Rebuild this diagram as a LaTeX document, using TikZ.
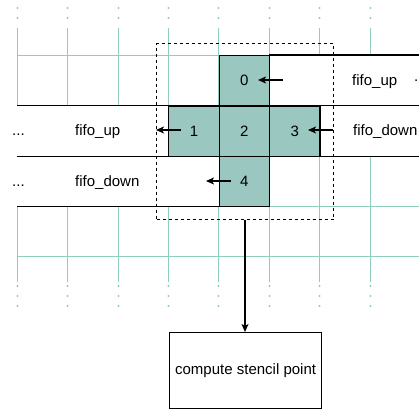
\documentclass[tikz,border=0pt]{standalone}
\usepackage{fontspec}
\setmainfont{Liberation Sans}
\usetikzlibrary{arrows.meta}
\definecolor{gridc}{HTML}{8FCDBF}
\definecolor{cellc}{HTML}{9AC7BF}
\begin{document}
\begin{tikzpicture}[x=1pt,y=-1pt, font=\fontsize{15}{18}\selectfont,
  gridline/.style={draw=gridc, line width=1.3pt},
  cell/.style={draw=black, fill=cellc, line width=1.2pt, minimum width=50.4pt, minimum height=50.4pt, inner sep=0pt, anchor=north west},
  lane/.style={fill=white, inner sep=0pt, minimum height=50.4pt, anchor=north west},
  edgeline/.style={draw=black, line width=1.2pt},
  feed/.style={-{Stealth[length=8pt,width=7pt,inset=2pt]}, line width=1.2pt},
  lbl/.style={anchor=base west, inner sep=0pt}]
\clip (0,0) rectangle (419,410);
% background grid
\foreach \gx in {17.5,67.5,118.5,168.5,218.5,269.5,319.5,370.5} {
  \draw[gridline] (\gx,28) -- (\gx,282);
  \foreach \yy in {8,18,286,296,306} \fill[gridc] (\gx,\yy) circle (1.2pt);
}
\foreach \yy in {55.5,105.5,155.5,206.5,256.5} \draw[gridline] (17,\yy) -- (419,\yy);
% lanes (fifos)
\node[lane, minimum width=168.2pt] (lup) at (0,105.4) {};
\node[lane, minimum width=218.6pt] (ldown) at (0,155.8) {};
\node[lane, minimum width=170pt] (rup) at (269,55) {};
\node[lane, minimum width=120pt] (rdown) at (319.4,105.4) {};
\draw[edgeline] ([xshift=17pt]lup.north west) -- (lup.north east);
\draw[edgeline] ([xshift=17pt]lup.south west) -- (lup.south east);
\draw[edgeline] ([xshift=17pt]ldown.south west) -- (ldown.south east);
\draw[edgeline] (rup.north west) -- (rup.north east);
\draw[edgeline] (rup.south west) -- (rup.south east);
\draw[edgeline] (rdown.south west) -- (rdown.south east);
% stencil cells
\node[cell] (c0) at (218.6,55) {0};
\node[cell] (c1) at (168.2,105.4) {1};
\node[cell] (c2) at (218.6,105.4) {2};
\node[cell] (c3) at (269,105.4) {3};
\node[cell] (c4) at (218.6,155.8) {4};
% labels
\node[lbl] (tlup) at (75,135.3) {fifo\_up};
\node[lbl] (tldown) at (75,186.3) {fifo\_down};
\node[lbl] (trup) at (352,85.3) {fifo\_up};
\node[lbl] (trdown) at (353,135.3) {fifo\_down};
\node[lbl] (dl1) at (12,135.3) {...};
\node[lbl] (dl2) at (12,186.3) {...};
\node[lbl] (dr1) at (414,81.5) {...};
% arrows into cells / out of cells
\coordinate (a0s) at (283,80);  \coordinate (a0e) at (258,80);
\coordinate (a1s) at (181,130); \coordinate (a1e) at (156,130);
\coordinate (a3s) at (333,130); \coordinate (a3e) at (308,130);
\coordinate (a4s) at (231,181); \coordinate (a4e) at (206,181);
\draw[feed] (a0s) -- (a0e);
\draw[feed] (a1s) -- (a1e);
\draw[feed] (a3s) -- (a3e);
\draw[feed] (a4s) -- (a4e);
% stencil window and compute box
\node[draw, line width=1pt, dash pattern=on 3pt off 3pt, minimum width=177pt, minimum height=176pt, inner sep=0pt, anchor=north west] (stencil) at (156,43) {};
\node[draw, line width=1.2pt, minimum width=152pt, minimum height=76pt, inner sep=0pt, anchor=north west] (compute) at (169,332) {compute stencil point};
\draw[feed] (stencil.south) -- (stencil.south |- compute.north);
\end{tikzpicture}
\end{document}
